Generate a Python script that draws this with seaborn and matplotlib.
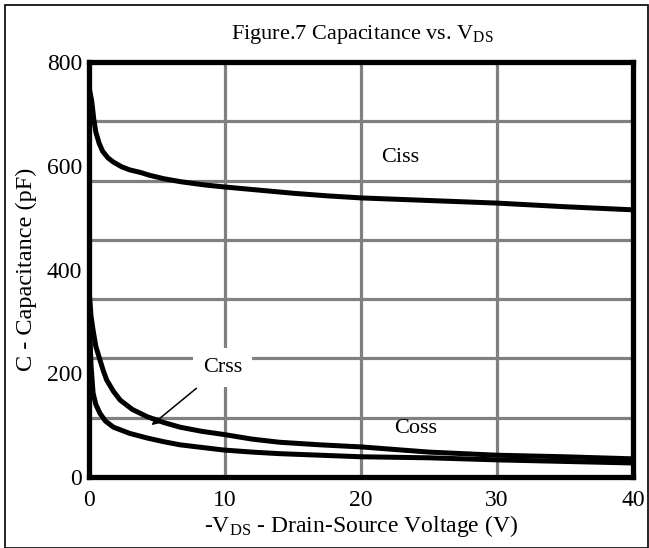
import matplotlib
matplotlib.use("Agg")
import matplotlib.pyplot as plt
import seaborn as sns
import numpy as np
import pandas as pd
from matplotlib.patches import Rectangle
from matplotlib.ticker import FixedLocator

# ---- data ----
ciss_v = [0.05, 0.2, 0.35, 0.5, 0.75, 1.0, 1.4, 1.8, 2.4, 3.0, 3.8, 4.4, 5.5, 6.8,
          8.5, 10, 12.5, 15, 17.5, 20, 25, 30, 35, 40]
ciss_c = [745, 725, 690, 665, 643, 628, 615, 607, 598, 592, 587, 582, 575, 569,
          563, 559, 553, 547, 542, 538, 533, 528, 521, 515]

crss_v = [0.05, 0.15, 0.3, 0.5, 0.8, 1.05, 1.3, 1.8, 2.3, 3.2, 4.3, 5.5, 6.7, 8.3,
          9.9, 12, 14, 17, 20, 22.5, 25, 30, 35, 40]
crss_c = [345, 310, 283, 252, 226, 205, 187, 165, 148, 130, 116, 105, 96, 88,
          82, 73, 67, 62, 58, 53, 48, 42, 39, 35]

coss_v = [0.05, 0.1, 0.15, 0.3, 0.5, 0.8, 1.2, 1.8, 3.0, 4.3, 5.5, 6.7, 8.3, 9.9,
          12, 14, 17, 20, 25, 30, 35, 40]
coss_c = [300, 250, 215, 162, 140, 123, 108, 96, 84, 75, 68, 62, 57, 52,
          48, 45, 42, 39, 37, 33, 30, 27]

x_ticks = [0, 10, 20, 30, 40]
y_ticks = [0, 200, 400, 600, 800]
title = "Figure.7 Capacitance vs. V$_{\\rm DS}$"
x_label = "-V$_{\\rm DS}$ - Drain-Source Voltage (V)"
y_label = "C - Capacitance (pF)"

sns.set_theme(style="white")
plt.rcParams["font.family"] = ["Liberation Serif", "DejaVu Serif"]
plt.rcParams["mathtext.fontset"] = "custom"
plt.rcParams["mathtext.rm"] = "Liberation Serif"
plt.rcParams["mathtext.it"] = "Liberation Serif:italic"
plt.rcParams["mathtext.bf"] = "Liberation Serif:bold"

fig = plt.figure(figsize=(6.49, 5.48), dpi=100)
ax = fig.add_axes([89 / 649, 1 - 477 / 548, (633 - 89) / 649, (477 - 62) / 548])

frames = []
for name, v, c in [("Ciss", ciss_v, ciss_c), ("Crss", crss_v, crss_c), ("Coss", coss_v, coss_c)]:
    frames.append(pd.DataFrame({"V": v, "C": c, "series": name}))
df = pd.concat(frames, ignore_index=True)

sns.lineplot(data=df, x="V", y="C", units="series", estimator=None, color="black",
             linewidth=3.6, ax=ax, legend=False, zorder=3,
             solid_joinstyle="round", solid_capstyle="round")

ax.set_xlim(0, 40)
ax.set_ylim(0, 800)
ax.set_xticks(x_ticks)
ax.set_yticks(y_ticks)
ax.yaxis.set_minor_locator(FixedLocator([k * 800 / 7 for k in range(1, 7)]))
ax.tick_params(axis="both", which="both", length=0, labelsize=17, colors="black")
ax.tick_params(axis="x", pad=9)
ax.tick_params(axis="y", pad=5)

ax.xaxis.grid(True, which="major", color="#808080", linewidth=2.3)
ax.yaxis.grid(False, which="major")
ax.yaxis.grid(True, which="minor", color="#808080", linewidth=2.3)
ax.set_axisbelow(True)

for s in ax.spines.values():
    s.set_visible(True)
    s.set_color("black")
    s.set_linewidth(3.8)
    s.set_zorder(5)

ax.set_xlabel(x_label, fontsize=17, color="black", labelpad=2)
ax.set_ylabel(y_label, fontsize=17.5, color="black", labelpad=7)

fig.text(362 / 649, 1 - 34 / 548, title, ha="center", va="center", fontsize=16, color="black")

ax.text(22.9, 615, "Ciss", ha="center", va="center", fontsize=16, color="black", zorder=4)
ax.text(24.0, 94, "Coss", ha="center", va="center", fontsize=16, color="black", zorder=4)
ax.annotate("Crss", xy=(4.6, 100), xytext=(9.8, 212), ha="center", va="center",
            fontsize=16, color="black", zorder=4,
            bbox=dict(boxstyle="square,pad=0.45", fc="white", ec="none"),
            arrowprops=dict(arrowstyle="-|>", color="black", lw=1.1, mutation_scale=10,
                            shrinkA=2, shrinkB=0))

fig.patches.append(Rectangle((5 / 649, 0.0), 1 - 5 / 649 - 0.001, 1 - 5 / 548,
                             transform=fig.transFigure, fill=False, ec="black", lw=1.2))

fig.savefig("out.png", dpi=100)
